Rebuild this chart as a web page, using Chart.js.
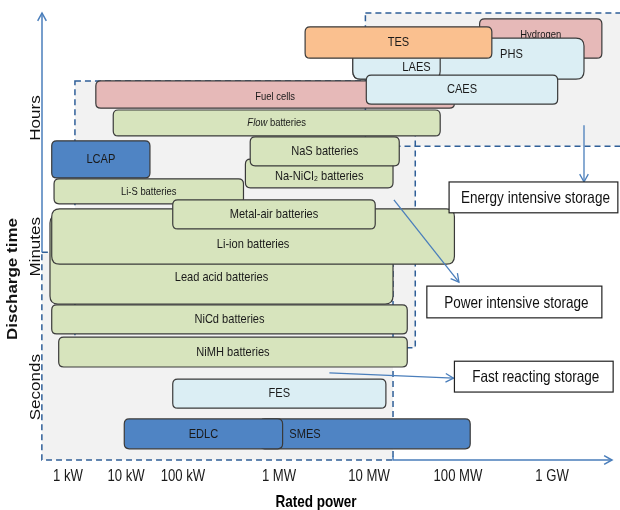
<!DOCTYPE html>
<html>
<head>
<meta charset="utf-8">
<script src="https://cdn.jsdelivr.net/npm/chart.js@4/dist/chart.umd.min.js"></script>
<style>
  html, body { margin: 0; padding: 0; background: #fff; }
  #wrap { width: 620px; height: 510px; }
</style>
</head>
<body>
<div id="wrap"><canvas id="myChart" width="620" height="510"></canvas></div>
<script>
// rated power in decades of watts: 3 = 1 kW ... 9 = 1 GW
const powerDecades = [3, 4, 5, 6, 7, 8, 9];
const powerLabels = ['1 kW', '10 kW', '100 kW', '1 MW', '10 MW', '100 MW', '1 GW'];
// the source axis is not evenly spaced, this is where each decade sits on it (0-100)
const decadePos = [4.74, 15.33, 25.73, 43.25, 59.67, 75.91, 93.07];

// discharge time axis, 0-100 from the power axis up to the arrow tip
const timeLabels = ['Seconds', 'Minutes', 'Hours'];
const timePos = [16.3, 47.7, 76.5];

// technologies, in drawing order (back to front)
const techNames = ['Hydrogen', 'PHS', 'LAES', 'TES', 'Fuel cells', 'CAES', 'Flow batteries',
  'Na-NiCl\u2082 batteries', 'NaS batteries', 'Li-S batteries', 'LCAP', 'Lead acid batteries',
  'Li-ion batteries', 'Metal-air batteries', 'NiCd batteries', 'NiMH batteries', 'FES', 'SMES', 'EDLC'];
const powerFrom = [8.23, 6.82, 6.82, 6.29, 3.48, 6.97, 3.78, 5.65, 5.70, 2.76, 2.72, 2.69, 2.72, 4.82, 2.72, 2.84, 4.82, 5.80, 3.97];
const powerTo   = [9.53, 9.34, 7.80, 8.36, 7.96, 9.06, 7.80, 7.27, 7.34, 5.63, 4.42, 7.27, 7.96, 7.07, 7.43, 7.43, 7.19, 8.13, 6.04];
const timeFrom  = [89.9, 85.2, 85.2, 89.9, 78.7, 79.6, 72.5, 60.9, 65.8, 57.3, 63.1, 34.9, 43.8, 51.7, 28.2, 20.8, 11.6, 2.5, 2.5];
const timeTo    = [98.7, 94.4, 94.4, 96.9, 84.8, 86.1, 78.3, 67.3, 72.3, 62.9, 71.4, 54.8, 56.2, 58.2, 34.7, 27.5, 18.1, 9.2, 9.2];
const techKind  = ['pink', 'lightblue', 'lightblue', 'orange', 'pink', 'lightblue', 'green',
  'green', 'green', 'green', 'blue', 'green', 'green', 'green', 'green', 'green', 'lightblue', 'blue', 'blue'];

// shaded groups (dashed outlines)
const groupNames = ['Energy intensive', 'Power intensive', 'Fast reacting'];
const groupPowerFrom = [6.96, 3.12, 2.55];
const groupPowerTo = [9.95, 7.52, 7.27];
const groupTimeFrom = [70.2, 25.1, 0];
const groupTimeTo = [100, 84.8, 46.5];

// callout boxes and their arrows
const calloutText = ['Energy intensive storage', 'Power intensive storage', 'Fast reacting storage'];
const calloutPowerFrom = [7.90, 7.65, 7.96];
const calloutPowerTo = [9.70, 9.53, 9.65];
const calloutTimeFrom = [55.3, 31.8, 15.2];
const calloutTimeTo = [62.2, 38.9, 22.1];
const arrowFrom = [[9.34, 74.9], [7.28, 58.2], [6.56, 19.5]];
const arrowTo = [[9.34, 62.2], [8.01, 39.8], [7.95, 18.3]];

const fills = {
  green: '#d7e4bd',
  lightblue: '#dbeef4',
  pink: '#e6b9b8',
  orange: '#fac08f',
  blue: '#4f84c4'
};
const smallLabel = { 'Hydrogen': 1, 'Fuel cells': 1, 'Flow batteries': 1, 'Li-S batteries': 1 };
// label nudges in px where the visible part of a box is off-centre
const labelShift = {
  'Hydrogen': [0, -4], 'PHS': [43, -4], 'LAES': [20, 9], 'Fuel cells': [0, 2],
  'Na-NiCl\u2082 batteries': [0, 3], 'Li-ion batteries': [0, 8], 'Lead acid batteries': [0, 18],
  'SMES': [-60, 0]
};

// the source text is horizontally compressed, so text is drawn squeezed
const family = '"Liberation Sans", Arial, sans-serif';
const squeeze = 0.82;

function axisPos(d) {
  const n = powerDecades.length;
  let i = Math.floor(d - powerDecades[0]);
  if (i < 0) i = 0;
  if (i > n - 2) i = n - 2;
  const f = d - powerDecades[i];
  return decadePos[i] + f * (decadePos[i + 1] - decadePos[i]);
}

function roundRect(ctx, x, y, w, h, r) {
  ctx.beginPath();
  ctx.moveTo(x + r, y);
  ctx.lineTo(x + w - r, y);
  ctx.quadraticCurveTo(x + w, y, x + w, y + r);
  ctx.lineTo(x + w, y + h - r);
  ctx.quadraticCurveTo(x + w, y + h, x + w - r, y + h);
  ctx.lineTo(x + r, y + h);
  ctx.quadraticCurveTo(x, y + h, x, y + h - r);
  ctx.lineTo(x, y + r);
  ctx.quadraticCurveTo(x, y, x + r, y);
  ctx.closePath();
}

function arrowHead(ctx, x0, y0, x1, y1) {
  const a = Math.atan2(y1 - y0, x1 - x0);
  const len = 9, spread = 0.5;
  ctx.beginPath();
  ctx.moveTo(x1 - len * Math.cos(a - spread), y1 - len * Math.sin(a - spread));
  ctx.lineTo(x1, y1);
  ctx.lineTo(x1 - len * Math.cos(a + spread), y1 - len * Math.sin(a + spread));
  ctx.stroke();
}

// horizontal text, squeezed; parts = [[text, fontStyle], ...]
function text(ctx, parts, x, y, size) {
  let total = 0;
  const widths = parts.map(p => {
    ctx.font = p[1] + ' ' + size + 'px ' + family;
    const w = ctx.measureText(p[0]).width;
    total += w;
    return w;
  });
  ctx.save();
  ctx.translate(x, y);
  ctx.scale(squeeze, 1);
  ctx.textAlign = 'left';
  ctx.textBaseline = 'middle';
  let cx = -total / 2;
  parts.forEach((p, i) => {
    ctx.font = p[1] + ' ' + size + 'px ' + family;
    ctx.fillText(p[0], cx, 0);
    cx += widths[i];
  });
  ctx.restore();
}

function upText(ctx, str, x, y, font) {
  ctx.save();
  ctx.translate(x, y);
  ctx.rotate(-Math.PI / 2);
  ctx.scale(1, squeeze);
  ctx.font = font;
  ctx.textAlign = 'center';
  ctx.textBaseline = 'middle';
  ctx.fillText(str, 0, 0);
  ctx.restore();
}

const diagram = {
  id: 'diagram',
  beforeDatasetsDraw(chart) {
    const ctx = chart.ctx;
    const xs = chart.scales.x, ys = chart.scales.y;
    const px = d => xs.getPixelForValue(axisPos(d));
    const py = t => ys.getPixelForValue(t);
    ctx.save();

    // shaded groups
    ctx.fillStyle = '#f2f2f2';
    for (let i = 0; i < groupNames.length; i++) {
      const x0 = px(groupPowerFrom[i]), x1 = px(groupPowerTo[i]);
      const y0 = py(groupTimeTo[i]), y1 = py(groupTimeFrom[i]);
      ctx.fillRect(x0, y0, x1 - x0, y1 - y0);
    }
    ctx.strokeStyle = '#2f5f98';
    ctx.lineWidth = 1.5;
    ctx.setLineDash([6, 4]);
    for (let i = 0; i < groupNames.length; i++) {
      const x0 = px(groupPowerFrom[i]), x1 = px(groupPowerTo[i]);
      const y0 = py(groupTimeTo[i]), y1 = py(groupTimeFrom[i]);
      ctx.strokeRect(x0, y0, x1 - x0, y1 - y0);
    }
    ctx.setLineDash([]);

    // axes with arrow tips
    ctx.strokeStyle = '#4a7ebb';
    ctx.lineWidth = 1.5;
    const ax = xs.left, ay = ys.bottom;
    ctx.beginPath();
    ctx.moveTo(ax, py(groupTimeTo[2]));
    ctx.lineTo(ax, ys.top);
    ctx.stroke();
    arrowHead(ctx, ax, ay, ax, ys.top);
    const xEnd = xs.right + 22;
    ctx.beginPath();
    ctx.moveTo(px(groupPowerTo[2]), ay - 4);
    ctx.lineTo(px(groupPowerTo[2]), ay);
    ctx.lineTo(xEnd, ay);
    ctx.stroke();
    arrowHead(ctx, ax, ay, xEnd, ay);

    // technology boxes
    for (let i = 0; i < techNames.length; i++) {
      const name = techNames[i];
      const x0 = px(powerFrom[i]), x1 = px(powerTo[i]);
      const y0 = py(timeTo[i]), y1 = py(timeFrom[i]);
      roundRect(ctx, x0, y0, x1 - x0, y1 - y0, y1 - y0 > 40 ? 8 : 5);
      ctx.fillStyle = fills[techKind[i]];
      ctx.fill();
      ctx.strokeStyle = '#3a3a3a';
      ctx.lineWidth = 1.2;
      ctx.stroke();
      const sh = labelShift[name] || [0, 0];
      const cx = (x0 + x1) / 2 + sh[0], cy = (y0 + y1) / 2 + sh[1];
      const size = smallLabel[name] ? 11.5 : 13.5;
      ctx.fillStyle = '#1a1a1a';
      if (name === 'Flow batteries') {
        text(ctx, [['Flow', 'italic'], [' batteries', 'normal']], cx, cy, size);
      } else {
        text(ctx, [[name, 'normal']], cx, cy, size);
      }
    }

    // arrows to callouts
    ctx.strokeStyle = '#4a7ebb';
    ctx.lineWidth = 1.3;
    for (let i = 0; i < arrowFrom.length; i++) {
      const x0 = px(arrowFrom[i][0]), y0 = py(arrowFrom[i][1]);
      const x1 = px(arrowTo[i][0]), y1 = py(arrowTo[i][1]);
      ctx.beginPath();
      ctx.moveTo(x0, y0);
      ctx.lineTo(x1, y1);
      ctx.stroke();
      arrowHead(ctx, x0, y0, x1, y1);
    }

    // callout boxes
    for (let i = 0; i < calloutText.length; i++) {
      const x0 = px(calloutPowerFrom[i]), x1 = px(calloutPowerTo[i]);
      const y0 = py(calloutTimeTo[i]), y1 = py(calloutTimeFrom[i]);
      ctx.fillStyle = '#fff';
      ctx.fillRect(x0, y0, x1 - x0, y1 - y0);
      ctx.strokeStyle = '#222';
      ctx.lineWidth = 1.2;
      ctx.strokeRect(x0, y0, x1 - x0, y1 - y0);
      ctx.fillStyle = '#111';
      text(ctx, [[calloutText[i], 'normal']], (x0 + x1) / 2 + 2, (y0 + y1) / 2 + 1, 16.5);
    }

    // rated power tick labels and title
    ctx.fillStyle = '#1a1a1a';
    for (let i = 0; i < powerLabels.length; i++) {
      text(ctx, [[powerLabels[i], 'normal']], xs.getPixelForValue(decadePos[i]), ay + 17, 16);
    }
    ctx.fillStyle = '#000';
    text(ctx, [['Rated power', 'bold']], (xs.left + xs.right) / 2, ay + 42, 16.5);

    // discharge time labels, written bottom to top
    ctx.fillStyle = '#111';
    for (let i = 0; i < timeLabels.length; i++) {
      upText(ctx, timeLabels[i], ax - 6, py(timePos[i]), '17px ' + family);
    }
    upText(ctx, 'Discharge time', ax - 29, py(40.5), 'bold 17px ' + family);

    ctx.restore();
  }
};

const ctx = document.getElementById('myChart').getContext('2d');

const myChart = new Chart(ctx, {
  type: 'scatter',
  data: { datasets: [] },
  options: {
    responsive: false,
    animation: false,
    layout: { padding: { left: 42, right: 30, top: 13, bottom: 50 } },
    plugins: { legend: { display: false }, tooltip: { enabled: false } },
    scales: {
      x: { type: 'linear', min: 0, max: 100, display: false },
      y: { type: 'linear', min: 0, max: 100, display: false }
    }
  },
  plugins: [diagram]
});
</script>
</body>
</html>
